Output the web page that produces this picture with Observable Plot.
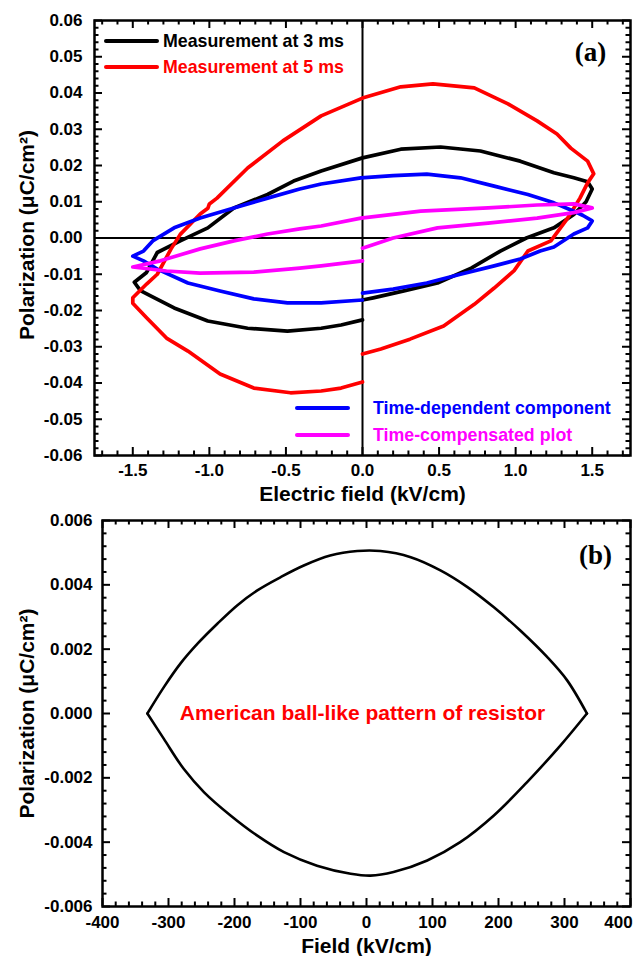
<!DOCTYPE html>
<html><head><meta charset="utf-8">
<script src="https://cdn.jsdelivr.net/npm/d3@7"></script>
<script src="https://cdn.jsdelivr.net/npm/@observablehq/plot@0.6"></script>
<style>
body{margin:0;background:#fff;}
#chart{width:638px;background:#fff;}
svg{display:block;}
</style></head><body><div id="chart"></div>
<script>
// ---------- Panel (a) data ----------
const blackE = [0.00,0.07,0.27,0.49,0.71,0.90,1.07,1.25,1.38,1.46,1.50,1.47,1.38,1.25,1.03,0.77,0.51,0.25,0.00,-0.27,-0.45,-0.62,-0.84,-1.01,-1.19,-1.34,-1.41,-1.49,-1.45,-1.39,-1.23,-1.01,-0.75,-0.49,-0.27,-0.14,0.00];
const blackP = [-0.0171,-0.0165,-0.0146,-0.0124,-0.0083,-0.0036,0.0000,0.0028,0.0065,0.0100,0.0135,0.0155,0.0166,0.0180,0.0212,0.0240,0.0251,0.0245,0.0221,0.0185,0.0157,0.0120,0.0083,0.0028,-0.0008,-0.0040,-0.0095,-0.0122,-0.0145,-0.0158,-0.0193,-0.0229,-0.0249,-0.0257,-0.0249,-0.0240,-0.0226];

const redE = [0.00,0.12,0.31,0.53,0.73,0.86,0.99,1.08,1.23,1.34,1.42,1.47,1.51,1.47,1.36,1.27,1.14,0.95,0.73,0.46,0.25,0.00,-0.27,-0.52,-0.75,-0.95,-1.00,-1.01,-1.06,-1.19,-1.25,-1.34,-1.41,-1.50,-1.50,-1.41,-1.28,-1.14,-0.93,-0.71,-0.47,-0.27,-0.14,0.00];
const redP = [-0.0320,-0.0306,-0.0279,-0.0243,-0.0183,-0.0138,-0.0090,-0.0036,-0.0008,0.0055,0.0110,0.0152,0.0177,0.0212,0.0248,0.0287,0.0323,0.0370,0.0414,0.0425,0.0417,0.0386,0.0337,0.0268,0.0193,0.0110,0.0094,0.0082,0.0066,0.0010,-0.0030,-0.0100,-0.0127,-0.0165,-0.0180,-0.0220,-0.0276,-0.0312,-0.0375,-0.0414,-0.0427,-0.0422,-0.0414,-0.0397];

const blueE = [0.00,0.20,0.42,0.64,0.86,1.03,1.16,1.25,1.38,1.47,1.50,1.44,1.38,1.25,1.08,0.86,0.64,0.42,0.20,-0.01,-0.27,-0.41,-0.62,-0.84,-1.06,-1.23,-1.37,-1.43,-1.50,-1.43,-1.34,-1.14,-0.93,-0.71,-0.49,-0.27,0.00];
const blueP = [-0.0152,-0.0141,-0.0124,-0.0100,-0.0077,-0.0058,-0.0036,-0.0025,0.0011,0.0028,0.0047,0.0062,0.0074,0.0097,0.0120,0.0143,0.0166,0.0176,0.0172,0.0166,0.0149,0.0135,0.0110,0.0083,0.0055,0.0028,-0.0008,-0.0036,-0.0050,-0.0063,-0.0086,-0.0124,-0.0146,-0.0168,-0.0179,-0.0179,-0.0171];

const magE = [0.00,0.20,0.49,0.82,1.14,1.38,1.50,1.38,1.14,0.82,0.38,-0.01,-0.27,-0.41,-0.62,-0.84,-1.06,-1.32,-1.50,-1.28,-1.06,-0.71,-0.41,-0.27,0.00];
const magP = [-0.0028,0.0000,0.0028,0.0041,0.0055,0.0070,0.0083,0.0094,0.0091,0.0083,0.0074,0.0055,0.0033,0.0025,0.0011,-0.0008,-0.0030,-0.0063,-0.0080,-0.0091,-0.0097,-0.0094,-0.0083,-0.0077,-0.0063];

const xTicksA = [-1.5,-1.0,-0.5,0.0,0.5,1.0,1.5];
const yTicksA = [-0.06,-0.05,-0.04,-0.03,-0.02,-0.01,0.00,0.01,0.02,0.03,0.04,0.05,0.06];

// ---------- Panel (b) data ----------
const ballUpperE = [-332,-307,-282,-256,-226,-196,-166,-130,-95,-55,-14,21,67,112,153,193,233,274,304,334];
const ballUpperP = [0,0.00082,0.00155,0.00217,0.00279,0.00336,0.00382,0.00424,0.0046,0.00491,0.00505,0.00505,0.00486,0.00445,0.00393,0.0033,0.00258,0.00175,0.00103,0];
const ballLowerE = [-332,-307,-277,-246,-206,-166,-125,-75,-24,6,41,92,142,193,243,294,334];
const ballLowerP = [0,-0.00079,-0.00172,-0.00245,-0.00317,-0.00379,-0.00431,-0.00473,-0.00498,-0.00504,-0.00493,-0.00457,-0.004,-0.00317,-0.00214,-0.00099,0];

const xTicksB = [-400,-300,-200,-100,0,100,200,300,400];
const yTicksB = [-0.006,-0.004,-0.002,0.000,0.002,0.004,0.006];

// ---------- helpers ----------
const rows = (E, P, s) => E.map((e, i) => ({E: e, P: P[i], s}));
const minor = (lo, hi, step, major) => d3.range(Math.round(lo/step), Math.round(hi/step) + 1)
  .map(k => +(k*step).toFixed(6)).filter(v => !major.some(t => Math.abs(t - v) < step/10));
const font = "Arial, 'Liberation Sans', sans-serif";
const serif = "'Liberation Serif', 'Times New Roman', serif";
const W = 638;

// inward frame ticks on all four sides; pixel lengths converted to data units
function frameTicks(xd, yd, xMaj, xMin, yMaj, yMin, fw, fh) {
  const kx = (xd[1] - xd[0]) / fw, ky = (yd[1] - yd[0]) / fh;
  const out = [];
  for (const [vals, len] of [[xMaj, 8], [xMin, 4.5]]) {
    out.push(Plot.ruleX(vals, {x: d => d, y1: yd[0], y2: yd[0] + len*ky, strokeWidth: 2}));
    out.push(Plot.ruleX(vals, {x: d => d, y1: yd[1] - len*ky, y2: yd[1], strokeWidth: 2}));
  }
  for (const [vals, len] of [[yMaj, 8], [yMin, 4.5]]) {
    out.push(Plot.ruleY(vals, {y: d => d, x1: xd[0], x2: xd[0] + len*kx, strokeWidth: 2}));
    out.push(Plot.ruleY(vals, {y: d => d, x1: xd[1] - len*kx, x2: xd[1], strokeWidth: 2}));
  }
  return out;
}

// ---------- Panel (a) ----------
const A = {h: 505, mt: 20, mb: 50, ml: 94, mr: 8};
const fwA = W - A.ml - A.mr, fhA = A.h - A.mt - A.mb;
const xdA = [-1.75, 1.75], ydA = [-0.06, 0.06];
const lineStyle = {strokeWidth: 3.7, strokeLinejoin: "round", strokeLinecap: "round"};

const plotA = Plot.plot({
  width: W, height: A.h, marginTop: A.mt, marginBottom: A.mb, marginLeft: A.ml, marginRight: A.mr,
  style: {fontFamily: font, fontWeight: "bold", fontSize: "17px", color: "#000", background: "#fff", overflow: "visible"},
  x: {domain: xdA},
  y: {domain: ydA},
  marks: [
    Plot.ruleX([0], {stroke: "#000", strokeWidth: 2}),
    Plot.ruleY([0], {stroke: "#000", strokeWidth: 2}),
    Plot.line(rows(blackE, blackP, "3ms"), {x: "E", y: "P", stroke: "#000000", ...lineStyle}),
    Plot.line(rows(redE, redP, "5ms"), {x: "E", y: "P", stroke: "#ff0000", ...lineStyle}),
    Plot.line(rows(blueE, blueP, "td"), {x: "E", y: "P", stroke: "#0000ff", ...lineStyle}),
    Plot.line(rows(magE, magP, "tc"), {x: "E", y: "P", stroke: "#ff00ff", ...lineStyle}),
    ...frameTicks(xdA, ydA, xTicksA, minor(-1.7, 1.7, 0.1, xTicksA), yTicksA, minor(-0.06, 0.06, 0.002, yTicksA), fwA, fhA),
    Plot.frame({stroke: "#000", strokeWidth: 2.5}),
    Plot.axisX(xTicksA, {anchor: "bottom", tickSize: 0, tickPadding: 8, tickFormat: d => d.toFixed(1), label: null, fontSize: 17}),
    Plot.axisY(yTicksA, {anchor: "left", tickSize: 0, tickPadding: 12, tickFormat: d => d.toFixed(2), label: null, fontSize: 17}),
    Plot.text(["Electric field (kV/cm)"], {frameAnchor: "bottom", textAnchor: "middle", dy: 45, fontSize: 21, fontWeight: "bold"}),
    Plot.text(["Polarization (μC/cm²)"], {frameAnchor: "left", textAnchor: "middle", lineAnchor: "middle", dx: -67, dy: -3, rotate: -90, fontSize: 21, fontWeight: "bold"}),
    Plot.text(["(a)"], {frameAnchor: "top-right", textAnchor: "middle", lineAnchor: "middle", dx: -40, dy: 32, fontSize: 27, fontWeight: "bold", fontFamily: serif})
  ]
});

// ---------- Panel (b) ----------
const B = {h: 451, mt: 15, mb: 50, ml: 102, mr: 8};
const fwB = W - B.ml - B.mr, fhB = B.h - B.mt - B.mb;
const xdB = [-400, 400], ydB = [-0.006, 0.006];
const ballRows = rows(ballUpperE, ballUpperP, "upper").concat(rows(ballLowerE, ballLowerP, "lower"));

const plotB = Plot.plot({
  width: W, height: B.h, marginTop: B.mt, marginBottom: B.mb, marginLeft: B.ml, marginRight: B.mr,
  style: {fontFamily: font, fontWeight: "bold", fontSize: "17px", color: "#000", background: "#fff", overflow: "visible"},
  x: {domain: xdB},
  y: {domain: ydB},
  marks: [
    Plot.line(ballRows, {x: "E", y: "P", z: "s", stroke: "#000", strokeWidth: 2.6, curve: "catmull-rom"}),
    ...frameTicks(xdB, ydB, xTicksB, minor(-400, 400, 20, xTicksB), yTicksB, minor(-0.006, 0.006, 0.0004, yTicksB), fwB, fhB),
    Plot.frame({stroke: "#000", strokeWidth: 2.5}),
    Plot.axisX(xTicksB.slice(0, -1), {anchor: "bottom", tickSize: 0, tickPadding: 9, tickFormat: d => String(d), label: null, fontSize: 17}),
    Plot.axisX(xTicksB.slice(-1), {anchor: "bottom", tickSize: 0, tickPadding: 9, tickFormat: d => String(d), label: null, fontSize: 17, dx: -12}),
    Plot.axisY(yTicksB, {anchor: "left", tickSize: 0, tickPadding: 10, tickFormat: d => d.toFixed(3), label: null, fontSize: 17}),
    Plot.text(["Field (kV/cm)"], {frameAnchor: "bottom", textAnchor: "middle", dy: 46, fontSize: 21, fontWeight: "bold"}),
    Plot.text(["Polarization (μC/cm²)"], {frameAnchor: "left", textAnchor: "middle", lineAnchor: "middle", dx: -75, rotate: -90, fontSize: 21, fontWeight: "bold"}),
    Plot.text(["American ball-like pattern of resistor"], {frameAnchor: "middle", textAnchor: "middle", dx: -4, fill: "#ff0000", fontSize: 21, fontWeight: "bold"}),
    Plot.text(["(b)"], {frameAnchor: "top-right", textAnchor: "middle", lineAnchor: "middle", dx: -35, dy: 35, fontSize: 27, fontWeight: "bold", fontFamily: serif})
  ]
});

// ---------- legend for panel (a) ----------
const legendA = [
  {label: "Measurement at 3 ms", color: "#000000", x: A.ml + 12, y: A.mt + 21, gap: 6},
  {label: "Measurement at 5 ms", color: "#ff0000", x: A.ml + 12, y: A.mt + 47, gap: 6},
  {label: "Time-dependent component", color: "#0000ff", x: A.ml + 203, y: A.mt + 388, gap: 25},
  {label: "Time-compensated plot", color: "#ff00ff", x: A.ml + 203, y: A.mt + 415, gap: 25}
];
const gA = d3.select(plotA).append("g").attr("text-anchor", "start");
legendA.forEach(d => {
  const len = 51;
  gA.append("line").attr("x1", d.x).attr("x2", d.x + len).attr("y1", d.y).attr("y2", d.y)
    .attr("stroke", d.color).attr("stroke-width", 4).attr("stroke-linecap", "round");
  gA.append("text").attr("x", d.x + len + d.gap).attr("y", d.y).attr("dy", "0.35em").attr("text-anchor", "start")
    .attr("fill", d.color).attr("font-size", 17.8).attr("font-weight", "bold").attr("font-family", font).text(d.label);
});

const chart = document.getElementById("chart");
chart.appendChild(plotA);
chart.appendChild(plotB);
</script>
</body></html>
